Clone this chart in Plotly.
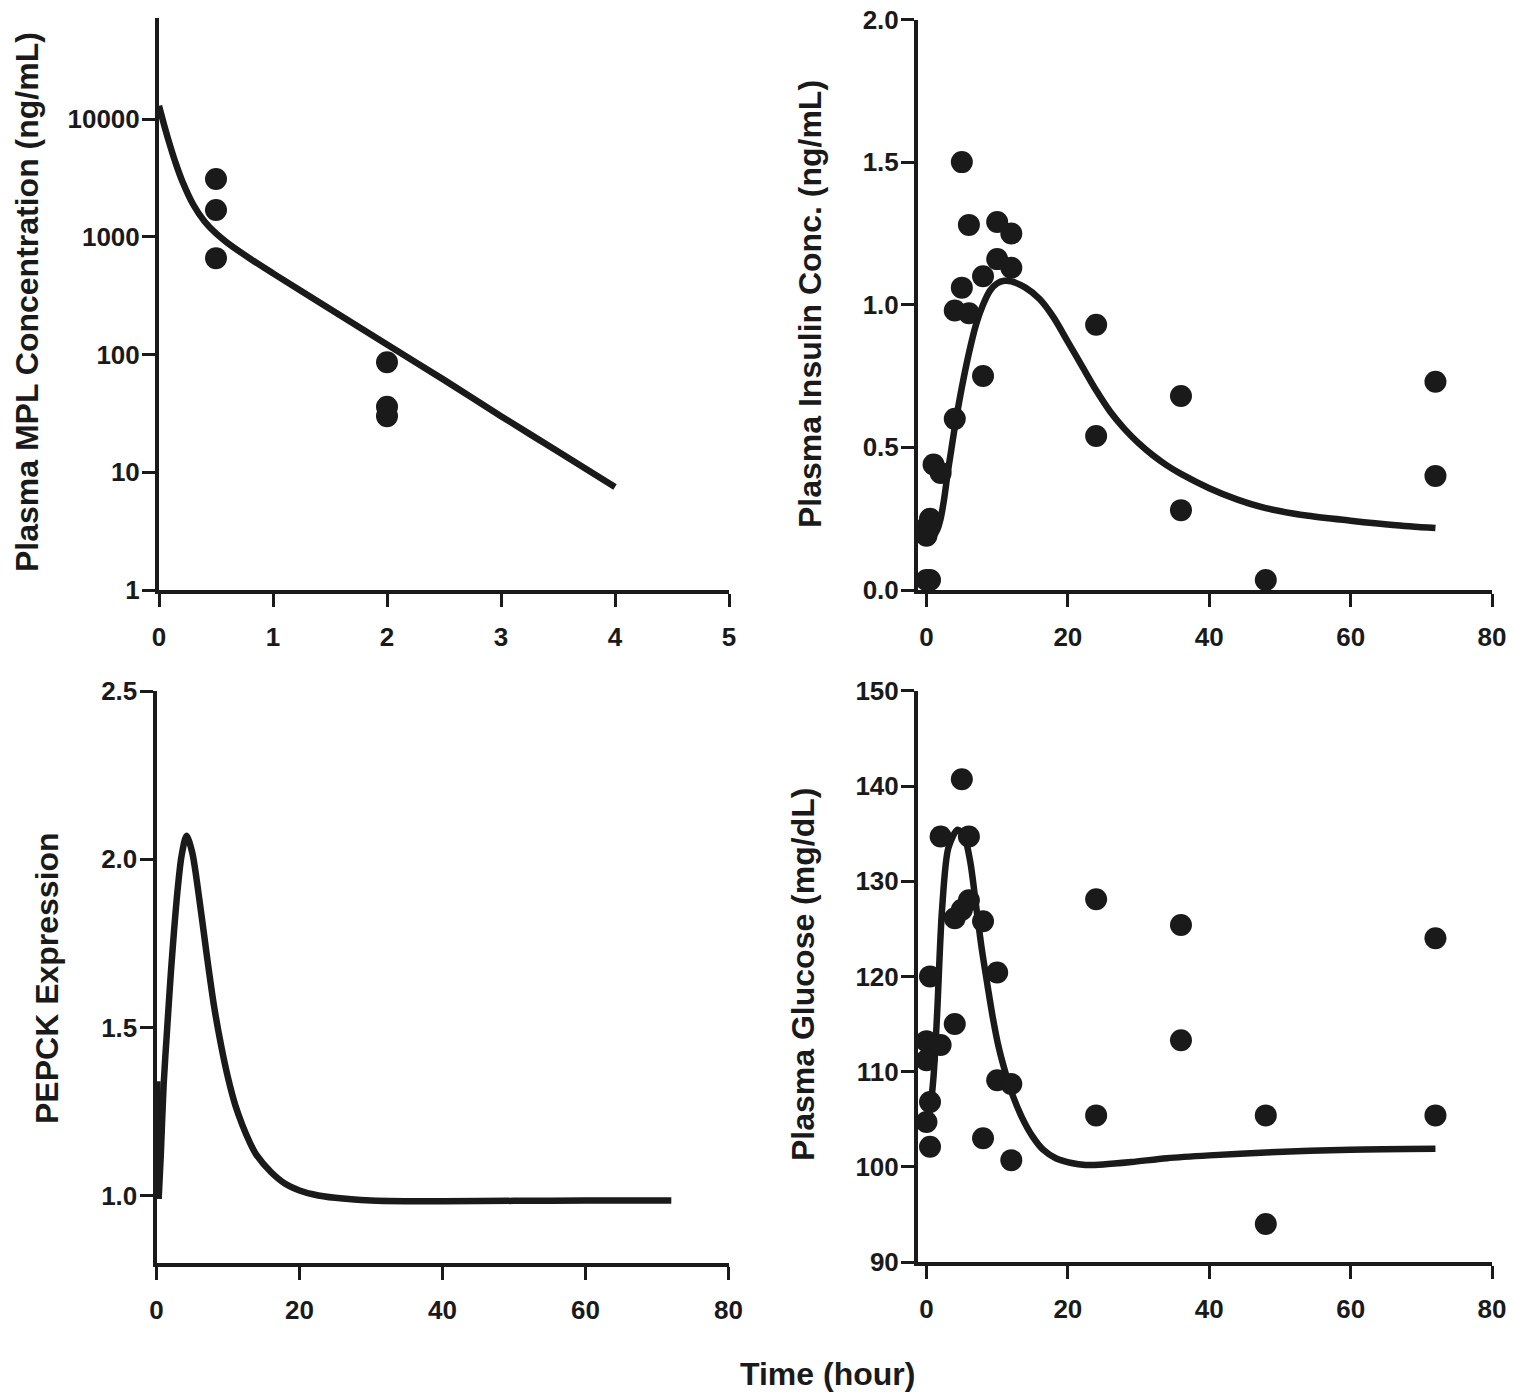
import plotly.graph_objects as go

# ---------------- data ----------------
# Panel A: plasma MPL concentration (ng/mL), log scale
mpl_time_obs = [0.5, 0.5, 0.5, 2, 2, 2]
mpl_conc_obs = [3100, 1690, 660, 86, 36, 30]
mpl_time_fit = [0, 0.05, 0.1, 0.15, 0.2, 0.3, 0.4, 0.5, 0.6, 0.8, 1.0, 1.5, 2.0, 2.5, 3.0, 3.5, 4.0]
mpl_conc_fit = [13000, 8580, 5850, 4135, 3050, 1886, 1352, 1070, 891, 653, 490, 244, 122, 61, 30, 15, 7.5]

# Panel B: plasma insulin (ng/mL)
ins_time_obs = [5, 6, 10, 12, 10, 12, 8, 5, 4, 6, 8, 24, 24, 36, 36, 4, 1, 2, 0.5, 0, 0, 0, 0.5, 48, 72, 72]
ins_conc_obs = [1.50, 1.28, 1.29, 1.25, 1.16, 1.13, 1.10, 1.06, 0.98, 0.97, 0.75, 0.93, 0.54, 0.68, 0.28,
                0.60, 0.44, 0.41, 0.25, 0.22, 0.19, 0.035, 0.035, 0.035, 0.73, 0.40]
ins_time_fit = [0, 0.5, 1, 1.5, 2, 2.5, 3, 3.5, 4, 5, 6, 7, 8, 9, 10, 11, 12, 14, 16, 18, 20, 22,
                24, 26, 28, 30, 32, 34, 36, 40, 44, 48, 54, 60, 66, 72]
ins_conc_fit = [0.19, 0.185, 0.19, 0.21, 0.25, 0.32, 0.41, 0.49, 0.57, 0.71, 0.83, 0.93, 1.0, 1.05, 1.075,
                1.084, 1.082, 1.06, 1.02, 0.955, 0.87, 0.785, 0.70, 0.625, 0.565, 0.515, 0.473, 0.437,
                0.407, 0.357, 0.317, 0.287, 0.26, 0.243, 0.228, 0.217]

# Panel C: PEPCK expression
pep_time_spike = [0, 0.12, 0.3]
pep_expr_spike = [0.99, 1.34, 0.99]
pep_time_fit = [0.3, 0.6, 1.0, 1.5, 2.0, 2.5, 3.0, 3.5, 4.2, 5, 6, 7, 8, 9, 10, 11, 12, 13, 14, 16, 18,
                20, 22, 25, 30, 35, 40, 50, 60, 72]
pep_expr_fit = [0.99, 1.12, 1.33, 1.50, 1.66, 1.80, 1.92, 2.01, 2.07, 2.02, 1.88, 1.72, 1.57, 1.45, 1.35,
                1.27, 1.21, 1.16, 1.12, 1.07, 1.035, 1.015, 1.003, 0.993, 0.985, 0.983, 0.983, 0.984,
                0.985, 0.985]

# Panel D: plasma glucose (mg/dL)
glu_time_obs = [5, 2, 6, 4, 5, 6, 8, 0.5, 10, 4, 0, 2, 0, 10, 12, 0.5, 0, 0.5, 8, 12,
                24, 24, 36, 36, 48, 48, 72, 72]
glu_conc_obs = [140.7, 134.7, 134.7, 126.1, 127.0, 128.0, 125.8, 120.0, 120.4, 115.0, 113.2, 112.8,
                111.2, 109.1, 108.7, 106.8, 104.7, 102.1, 103.0, 100.7,
                128.1, 105.4, 125.4, 113.3, 105.4, 94.0, 124.0, 105.4]
glu_time_fit = [0, 0.5, 1.0, 1.5, 2.2, 3.1, 4.4, 5.3, 6.2, 7.0, 7.8, 8.6, 9.4, 10.2, 11.2, 12.1, 13.5,
                15, 16.5, 18.3, 20.5, 22.5, 25, 29, 34, 40, 48, 60, 72]
glu_conc_fit = [104.5, 106, 109.5, 116, 127, 133.5, 135.4, 134.8, 132, 127.5, 123, 119.2, 115.6, 112.6,
                109.8, 107.7, 105.2, 103.2, 101.8, 100.9, 100.4, 100.2, 100.25, 100.5, 100.9, 101.2,
                101.5, 101.8, 101.9]

# ---------------- style ----------------
W, H = 1518, 1396
INK = "#1a1a1a"
FONT = "Liberation Sans, Arial, Helvetica, sans-serif"
TICK_SIZE = 26
TITLE_SIZE = 32
LINE_W = 6.5
MARK = 22


def fx(px):
    return px / W


def fy(py):
    return 1 - py / H


fig = go.Figure()


def add_obs(x, y, ax):
    fig.add_trace(go.Scatter(x=x, y=y, mode="markers", xaxis="x" + ax, yaxis="y" + ax,
                             marker=dict(size=MARK, color=INK, line=dict(width=0)),
                             showlegend=False, hoverinfo="x+y"))


def add_fit(x, y, ax, shape="spline"):
    fig.add_trace(go.Scatter(x=x, y=y, mode="lines", xaxis="x" + ax, yaxis="y" + ax,
                             line=dict(color=INK, width=LINE_W, shape=shape, smoothing=0.8),
                             showlegend=False, hoverinfo="x+y"))


add_fit(mpl_time_fit, mpl_conc_fit, "")
add_obs(mpl_time_obs, mpl_conc_obs, "")
add_fit(ins_time_fit, ins_conc_fit, "2")
add_obs(ins_time_obs, ins_conc_obs, "2")
add_fit(pep_time_spike, pep_expr_spike, "3", shape="linear")
add_fit(pep_time_fit, pep_expr_fit, "3")
add_fit(glu_time_fit, glu_conc_fit, "4")
add_obs(glu_time_obs, glu_conc_obs, "4")

axis_common = dict(showline=True, linecolor=INK, linewidth=4, ticks="outside", ticklen=13,
                   tickwidth=3, tickcolor=INK, showgrid=False, zeroline=False,
                   tickfont=dict(family=FONT, size=TICK_SIZE, color=INK, weight="bold"),
                   mirror=False, fixedrange=True, automargin=False)
xcommon = dict(axis_common, ticklabelstandoff=8)
ycommon = dict(axis_common, ticklabelstandoff=-3)

fig.update_layout(
    width=W, height=H, margin=dict(l=0, r=0, t=0, b=0, pad=0, autoexpand=False),
    paper_bgcolor="white", plot_bgcolor="white", showlegend=False,
    xaxis=dict(xcommon, domain=[fx(159), fx(729)], range=[0, 5],
               tickvals=[0, 1, 2, 3, 4, 5], anchor="y"),
    yaxis=dict(ycommon, domain=[fy(590), fy(18)], type="log", range=[0, 4.86],
               tickvals=[1, 10, 100, 1000, 10000],
               ticktext=["1", "10", "100", "1000", "10000"], anchor="x"),
    xaxis2=dict(xcommon, domain=[fx(918), fx(1492)], range=[-1.2, 80],
                tickvals=[0, 20, 40, 60, 80], anchor="y2"),
    yaxis2=dict(ycommon, domain=[fy(590), fy(19.5)], range=[0, 2],
                tickvals=[0, 0.5, 1.0, 1.5, 2.0],
                ticktext=["0.0", "0.5", "1.0", "1.5", "2.0"], anchor="x2"),
    xaxis3=dict(xcommon, domain=[fx(156.5), fx(728.5)], range=[0, 80],
                tickvals=[0, 20, 40, 60, 80], anchor="y3"),
    yaxis3=dict(ycommon, domain=[fy(1262.7), fy(691.3)], range=[0.8, 2.5],
                tickvals=[1.0, 1.5, 2.0, 2.5],
                ticktext=["1.0", "1.5", "2.0", "2.5"], anchor="x3"),
    xaxis4=dict(xcommon, domain=[fx(918), fx(1492)], range=[-1.2, 80],
                tickvals=[0, 20, 40, 60, 80], anchor="y4"),
    yaxis4=dict(ycommon, domain=[fy(1262), fy(690.8)], range=[90, 150],
                tickvals=[90, 100, 110, 120, 130, 140, 150], anchor="x4"),
)

titles = [
    ("Plasma MPL Concentration (ng/mL)", 27, 302, -90),
    ("Plasma Insulin Conc. (ng/mL)", 810, 304, -90),
    ("PEPCK Expression", 47, 978, -90),
    ("Plasma Glucose (mg/dL)", 803, 975, -90),
    ("Time (hour)", 827, 1374, 0),
]
for text, px, py, ang in titles:
    fig.add_annotation(text=text, x=fx(px), y=fy(py), xref="paper", yref="paper",
                       showarrow=False, textangle=ang, xanchor="center", yanchor="middle",
                       font=dict(family=FONT, size=TITLE_SIZE, color=INK, weight="bold"))

fig.write_html("out.html", config={"displayModeBar": False},
               post_script="document.body.style.margin='0';")
